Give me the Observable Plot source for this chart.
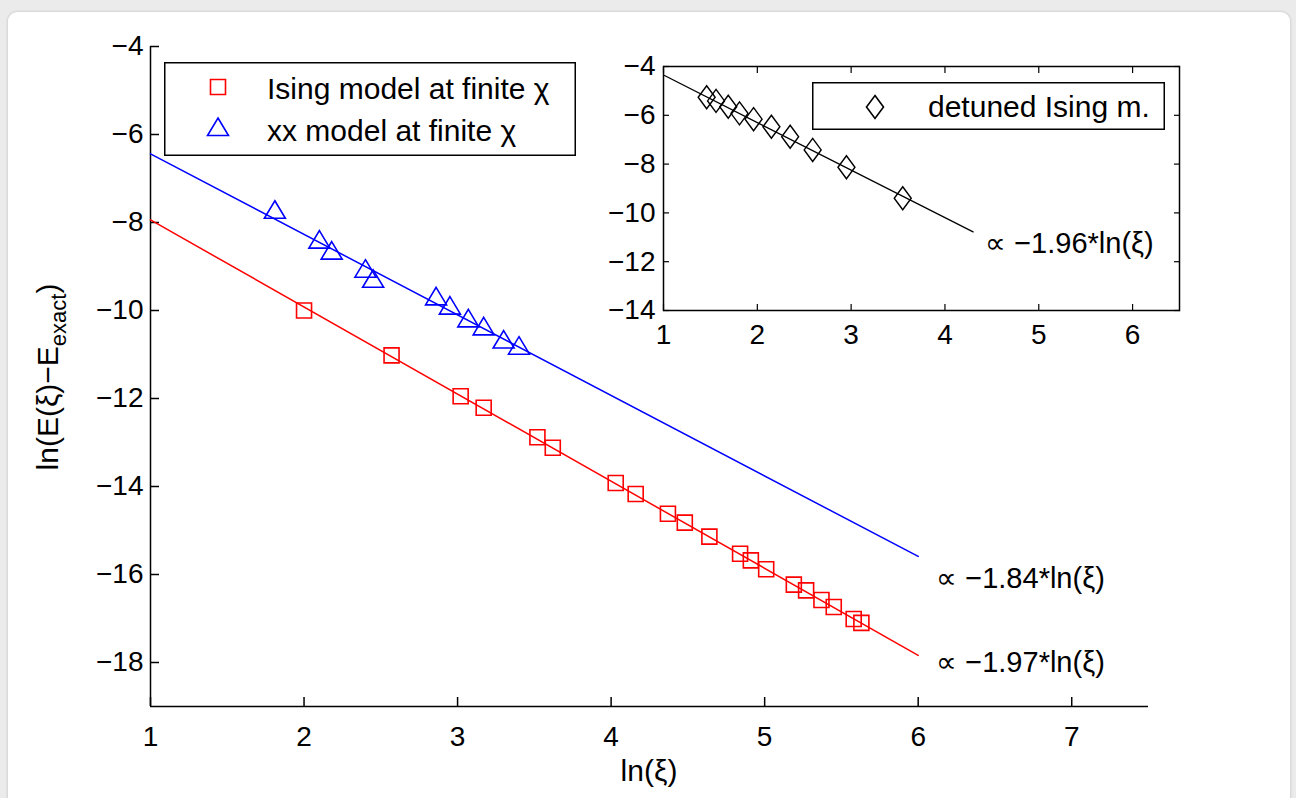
<!DOCTYPE html>
<html>
<head>
<meta charset="utf-8">
<script src="https://cdn.jsdelivr.net/npm/d3@7"></script>
<script src="https://cdn.jsdelivr.net/npm/@observablehq/plot@0.6"></script>
<style>
  html, body { margin: 0; padding: 0; }
  body { width: 1296px; height: 798px; overflow: hidden; background: #ebebeb; position: relative;
         font-family: "Liberation Sans", Arial, Helvetica, sans-serif; }
  #card { position: absolute; left: 8px; top: 12px; width: 1282px; height: 800px; background: #fff;
          border-radius: 9px; box-shadow: 0 0 3px rgba(0,0,0,0.22); }
  #main { position: absolute; left: 0; top: 0; }
  #inset { position: absolute; left: 593px; top: 56px; }
  .legend { position: absolute; }
</style>
</head>
<body>
<div id="card"></div>
<div id="main"></div>
<div id="inset"></div>
<script>
// ---------- data ----------
const isingX = [2.00, 2.57, 3.02, 3.17, 3.52, 3.62, 4.03, 4.16, 4.37, 4.48, 4.64, 4.84, 4.91, 5.01, 5.19, 5.27, 5.37, 5.45, 5.58, 5.63];
const isingY = [-10.00, -11.02, -11.95, -12.21, -12.88, -13.12, -13.92, -14.17, -14.62, -14.82, -15.14, -15.53, -15.68, -15.88, -16.23, -16.36, -16.58, -16.74, -17.01, -17.10];
const xxX = [1.81, 2.10, 2.18, 2.40, 2.45, 2.86, 2.95, 3.07, 3.17, 3.30, 3.40];
const xxY = [-7.71, -8.39, -8.64, -9.05, -9.28, -9.68, -9.89, -10.18, -10.36, -10.66, -10.80];
const detunedX = [1.46, 1.56, 1.69, 1.81, 1.96, 2.15, 2.35, 2.59, 2.95, 3.55];
const detunedY = [-5.26, -5.41, -5.65, -5.92, -6.16, -6.47, -6.88, -7.42, -8.13, -9.40];

const fitMainX = [1, 6];
const fitIsingY = [-7.94, -17.84];
const fitXxY = [-6.44, -15.59];
const fitDetX = [1, 4.3];
const fitDetY = [-4.35, -10.78];

const fitLabels = ["∝ −1.84*ln(ξ)", "∝ −1.97*ln(ξ)", "∝ −1.96*ln(ξ)"];
const seriesNames = ["Ising model at finite χ", "xx model at finite χ"];
const insetSeriesNames = ["detuned Ising m."];

const mainXTicks = [1, 2, 3, 4, 5, 6, 7];
const mainYTicks = [-4, -6, -8, -10, -12, -14, -16, -18];
const insetXTicks = [1, 2, 3, 4, 5, 6];
const insetYTicks = [-4, -6, -8, -10, -12, -14];

const xLabel = "ln(ξ)";
const yLabelMain = "ln(E(ξ)−E";
const yLabelSub = "exact";
const yLabelEnd = ")";

// ---------- helpers ----------
const zip = (xs, ys) => xs.map((x, i) => ({x, y: ys[i]}));
const FONT = '"Liberation Sans", Arial, Helvetica, sans-serif';
const fmt = d3.format("d");

// Matlab-like marker shapes
const squareSym = { draw(c) { c.moveTo(-7.5, -7.5); c.lineTo(7.5, -7.5); c.lineTo(7.5, 7.5); c.lineTo(-7.5, 7.5); c.closePath(); } };
const triangleSym = { draw(c) { c.moveTo(0, -9); c.lineTo(10.5, 8.5); c.lineTo(-10.5, 8.5); c.closePath(); } };
const diamondSym = { draw(c) { c.moveTo(0, -11.5); c.lineTo(8.5, 0); c.lineTo(0, 11.5); c.lineTo(-8.5, 0); c.closePath(); } };

// ---------- main chart ----------
const main = Plot.plot({
  width: 1296, height: 798,
  marginLeft: 150, marginRight: 148, marginTop: 46, marginBottom: 92,
  style: { fontFamily: FONT, fontSize: "28px", background: "transparent", color: "black", overflow: "visible" },
  x: { domain: [1, 7.5], label: null },
  y: { domain: [-19, -4], label: null },
  marks: [
    Plot.ruleX([1], { stroke: "black", strokeWidth: 1.5 }),
    Plot.ruleY([-19], { stroke: "black", strokeWidth: 1.5 }),
    Plot.axisX({ ticks: mainXTicks, tickFormat: fmt, anchor: "bottom", tickSize: -9, tickPadding: 29, strokeWidth: 1.5, label: null, fill: "black" }),
    Plot.axisY({ ticks: mainYTicks, tickFormat: fmt, anchor: "left", tickSize: -9, tickPadding: 16, strokeWidth: 1.5, label: null, fill: "black" }),
    Plot.line(zip(fitMainX, fitXxY), { x: "x", y: "y", stroke: "#0000ff", strokeWidth: 1.5 }),
    Plot.line(zip(fitMainX, fitIsingY), { x: "x", y: "y", stroke: "#ff0000", strokeWidth: 1.5 }),
    Plot.dot(zip(isingX, isingY), { x: "x", y: "y", symbol: squareSym, r: 5, fill: "none", stroke: "#ff0000", strokeWidth: 1.6 }),
    Plot.dot(zip(xxX, xxY), { x: "x", y: "y", symbol: triangleSym, r: 5, fill: "none", stroke: "#0000ff", strokeWidth: 1.6 }),
    Plot.text([{x: fitMainX[1], y: fitXxY[1], t: fitLabels[0]}], { x: "x", y: "y", text: "t", textAnchor: "start", dx: 18, dy: 22, fontSize: 29, fill: "black" }),
    Plot.text([{x: fitMainX[1], y: fitIsingY[1], t: fitLabels[1]}], { x: "x", y: "y", text: "t", textAnchor: "start", dx: 18, dy: 7, fontSize: 29, fill: "black" })
  ]
});
document.getElementById("main").appendChild(main);

// axis titles
const ms = d3.select(main);
ms.append("text").attr("x", 649).attr("y", 781).attr("text-anchor", "middle")
  .attr("font-family", FONT).attr("font-size", 30).attr("fill", "black").text(xLabel);
const yl = ms.append("text").attr("transform", "translate(58,377) rotate(-90)").attr("text-anchor", "middle")
  .attr("font-family", FONT).attr("font-size", 30).attr("fill", "black");
yl.append("tspan").text(yLabelMain);
yl.append("tspan").attr("font-size", 22).attr("dy", 8).text(yLabelSub);
yl.append("tspan").attr("dy", -8).text(yLabelEnd);

// ---------- inset ----------
const inset = Plot.plot({
  width: 596, height: 299,
  marginLeft: 70, marginRight: 10, marginTop: 10, marginBottom: 45,
  style: { fontFamily: FONT, fontSize: "28px", background: "white", color: "black", overflow: "visible" },
  x: { domain: [1, 6.5], label: null },
  y: { domain: [-14, -4], label: null },
  marks: [
    Plot.frame({ stroke: "black", strokeWidth: 1.5 }),
    Plot.axisX({ ticks: insetXTicks, tickFormat: fmt, anchor: "bottom", tickSize: -6, tickPadding: 20, strokeWidth: 1.2, label: null, fill: "black" }),
    Plot.axisX({ ticks: insetXTicks, anchor: "top", tickSize: -6, tickFormat: () => "", strokeWidth: 1.2, label: null }),
    Plot.axisY({ ticks: insetYTicks, tickFormat: fmt, anchor: "left", tickSize: -6, tickPadding: 14, strokeWidth: 1.2, label: null, fill: "black" }),
    Plot.axisY({ ticks: insetYTicks, anchor: "right", tickSize: -6, tickFormat: () => "", strokeWidth: 1.2, label: null }),
    Plot.line(zip(fitDetX, fitDetY), { x: "x", y: "y", stroke: "black", strokeWidth: 1.3 }),
    Plot.dot(zip(detunedX, detunedY), { x: "x", y: "y", symbol: diamondSym, r: 5, fill: "none", stroke: "black", strokeWidth: 1.4 }),
    Plot.text([{x: fitDetX[1], y: fitDetY[1], t: fitLabels[2]}], { x: "x", y: "y", text: "t", textAnchor: "start", dx: 12, dy: 12, fontSize: 29, fill: "black" })
  ]
});
document.getElementById("inset").appendChild(inset);

// ---------- legends (overlay boxes) ----------
function legend(left, top, w, h, entries) {
  const svg = d3.select("body").append("svg").attr("class", "legend")
    .style("left", left + "px").style("top", top + "px").attr("width", w).attr("height", h);
  svg.append("rect").attr("x", 0.75).attr("y", 0.75).attr("width", w - 1.5).attr("height", h - 1.5)
    .attr("fill", "white").attr("stroke", "black").attr("stroke-width", 1.5);
  entries.forEach(e => {
    svg.append("path").attr("d", d3.symbol(e.sym)()).attr("transform", `translate(${e.sx},${e.sy})`)
      .attr("fill", "none").attr("stroke", e.color).attr("stroke-width", 1.6);
    svg.append("text").attr("x", e.tx).attr("y", e.ty).attr("font-family", FONT).attr("font-size", 30)
      .attr("fill", "black").text(e.name);
  });
}
legend(164, 62, 412, 94, [
  { sym: squareSym, color: "#ff0000", sx: 54, sy: 25, tx: 103, ty: 37, name: seriesNames[0] },
  { sym: triangleSym, color: "#0000ff", sx: 54, sy: 65, tx: 103, ty: 79, name: seriesNames[1] }
]);
legend(812, 82, 353, 48, [
  { sym: diamondSym, color: "black", sx: 63, sy: 25, tx: 116, ty: 35, name: insetSeriesNames[0] }
]);
</script>
</body>
</html>
